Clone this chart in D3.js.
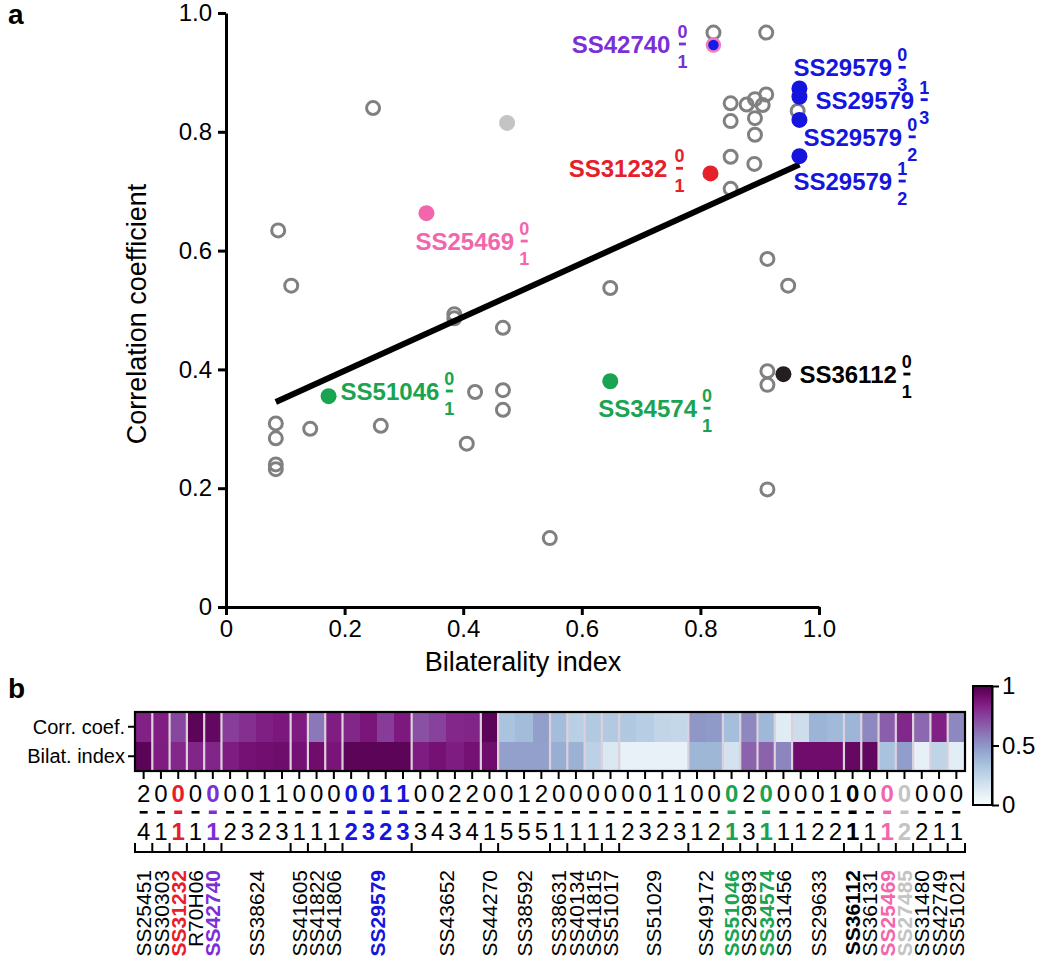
<!DOCTYPE html>
<html><head><meta charset="utf-8">
<script src="https://cdn.jsdelivr.net/npm/d3@7"></script>
<style>body{margin:0;background:#fff} text{font-family:"Liberation Sans",Arial,sans-serif}</style>
</head><body><svg id="c" width="1040" height="960"></svg>
<script>
// ---------- DATA ----------
const groupNames = ["SS25451","SS30303","SS31232","R70H06","SS42740","SS38624","SS41605","SS41822","SS41806","SS29579","SS43652","SS44270","SS38592","SS38631","SS40134","SS41815","SS51017","SS51029","SS49172","SS51046","SS29893","SS34574","SS31456","SS29633","SS36112","SS36131","SS25469","SS27485","SS31480","SS42749","SS51021"];
const groupSizes = [1,1,1,1,1,4,1,1,1,4,4,1,3,1,1,1,1,4,2,1,1,1,1,3,1,1,1,1,1,1,1];
const lineTop    = [2,0,0,0,0,0,0,1,1,0,0,0,0,0,1,1,0,0,2,2,0,0,1,2,0,0,0,0,0,0,1,1,0,0,0,2,0,0,0,0,1,0,0,0,0,0,0,0];
const lineBottom = [4,1,1,1,1,2,3,2,3,1,1,1,2,3,2,3,3,4,3,4,1,5,5,5,1,1,1,1,2,3,2,3,1,2,1,3,1,1,1,2,2,1,1,1,2,2,1,1];
const corrCoef   = [0.835,0.848,0.730,0.967,0.946,0.758,0.795,0.845,0.863,0.855,0.586,0.846,0.820,0.873,0.759,0.859,0.704,0.746,0.818,0.823,0.967,0.332,0.365,0.470,0.362,0.275,0.305,0.300,0.309,0.284,0.240,0.232,0.493,0.486,0.355,0.537,0.380,0.116,0.198,0.397,0.374,0.392,0.541,0.663,0.815,0.634,0.840,0.541];
const bilatIndex = [0.964,0.851,0.817,0.822,0.822,0.851,0.892,0.905,0.911,0.892,0.913,0.878,0.967,0.967,0.967,0.967,0.851,0.891,0.851,0.892,0.911,0.467,0.467,0.467,0.420,0.406,0.261,0.142,0.084,0.084,0.084,0.084,0.385,0.385,0.173,0.648,0.648,0.546,0.913,0.913,0.913,0.940,0.948,0.338,0.474,0.088,0.248,0.110];
const fitLine = {slope:0.453, intercept:0.307, from:0.084, to:0.967};
const axisTicks = [0,0.2,0.4,0.6,0.8,1.0];
const colorbarTicks = [0,0.5,1];
const rowNames = ["Corr. coef.","Bilat. index"];

// ---------- STYLE ----------
const hl = {
  SS31232:{dot:"#e6202a",label:"#e6202a"},
  SS42740:{dot:"#1a1ae6",ring:"#f07cc0",label:"#7b2fd6",r:6.5},
  SS29579:{dot:"#1515dd",label:"#1515dd"},
  SS51046:{dot:"#1aa350",label:"#1aa350"},
  SS34574:{dot:"#1aa350",label:"#1aa350"},
  SS36112:{dot:"#231f20",label:"#000000"},
  SS25469:{dot:"#f266ad",label:"#f266ad"},
  SS27485:{dot:"#c4c4c4",label:"#c4c4c4"}
};
const labelLayout = {
  2:{dx:-43,dy:4,anchor:"end"}, 4:{dx:-43,dy:8,anchor:"end"},
  13:{dx:-6,dy:-12}, 15:{dx:16,dy:12}, 12:{dx:4,dy:26}, 14:{dx:-6,dy:34},
  43:{dx:-11,dy:37}, 34:{dx:12,dy:4}, 36:{dx:-12,dy:36}, 41:{dx:16,dy:9}
};

// ---------- BUILD ----------
const cols = [];
groupNames.forEach((g,k)=>{
  for(let j=0;j<groupSizes[k];j++){
    const i = cols.length;
    cols.push({i, group:g, k, top:lineTop[i], bot:lineBottom[i], corr:corrCoef[i], bilat:bilatIndex[i]});
  }
});
const svg = d3.select("#c");
const FF = '"Liberation Sans",Arial,sans-serif';

// panel labels
svg.append("text").attr("x",8).attr("y",24).attr("font-size",28).attr("font-weight","bold").text("a");
svg.append("text").attr("x",8).attr("y",698).attr("font-size",28).attr("font-weight","bold").text("b");

// ---------- SCATTER ----------
const x = d3.scaleLinear().domain([0,1]).range([226,819]);
const y = d3.scaleLinear().domain([0,1]).range([607,13]);
const fmt = d=> d===0?"0":d3.format(".1f")(d);

const gx = svg.append("g").attr("transform","translate(0,607)")
  .call(d3.axisBottom(x).tickValues(axisTicks).tickSize(8).tickSizeOuter(0).tickPadding(5).tickFormat(fmt));
const gy = svg.append("g").attr("transform","translate(226,0)")
  .call(d3.axisLeft(y).tickValues(axisTicks).tickSize(8).tickSizeOuter(0).tickPadding(6).tickFormat(fmt));
[gx,gy].forEach(g=>{
  g.attr("font-family",FF).attr("font-size",24);
  g.select(".domain").attr("stroke-width",3).attr("stroke","#000");
  g.selectAll(".tick line").attr("stroke-width",3).attr("stroke","#000");
  g.selectAll(".tick text").attr("fill","#000");
});
svg.append("text").attr("x",523).attr("y",671).attr("text-anchor","middle").attr("font-size",27).text("Bilaterality index");
svg.append("text").attr("transform","translate(146,314) rotate(-90)").attr("text-anchor","middle").attr("font-size",27).text("Correlation coefficient");

// gray open circles
svg.append("g").selectAll("circle").data(cols.filter(c=>!hl[c.group])).join("circle")
  .attr("cx",c=>x(c.bilat)).attr("cy",c=>y(c.corr)).attr("r",6.5)
  .attr("fill","none").attr("stroke","#808080").attr("stroke-width",3);

// regression line
svg.append("line")
  .attr("x1",x(fitLine.from)).attr("y1",y(fitLine.intercept+fitLine.slope*fitLine.from))
  .attr("x2",x(fitLine.to)).attr("y2",y(fitLine.intercept+fitLine.slope*fitLine.to))
  .attr("stroke","#000").attr("stroke-width",6);

// highlighted dots
svg.append("g").selectAll("circle").data(cols.filter(c=>hl[c.group])).join("circle")
  .attr("cx",c=>x(c.bilat)).attr("cy",c=>y(c.corr))
  .attr("r",c=>hl[c.group].r||8)
  .attr("fill",c=>hl[c.group].dot)
  .attr("stroke",c=>hl[c.group].ring||"none").attr("stroke-width",2.5);

// labels with stacked fractions
const lg = svg.append("g");
Object.keys(labelLayout).forEach(key=>{
  const c = cols[+key], L = labelLayout[key], st = hl[c.group];
  const px = x(c.bilat)+L.dx, py = y(c.corr)+L.dy;
  const t = lg.append("text").attr("x",px).attr("y",py).attr("font-size",24).attr("font-weight","bold")
    .attr("fill",st.label).attr("text-anchor",L.anchor||"start").text(c.group);
  const len = t.node().getComputedTextLength();
  const fx = (L.anchor==="end") ? px+12 : px+len+10;
  lg.append("text").attr("x",fx).attr("y",py-15).attr("text-anchor","middle").attr("font-size",18).attr("font-weight","bold").attr("fill",st.label).text(c.top);
  lg.append("rect").attr("x",fx-3.5).attr("y",py-10.5).attr("width",7).attr("height",2.8).attr("fill",st.label);
  lg.append("text").attr("x",fx).attr("y",py+15).attr("text-anchor","middle").attr("font-size",18).attr("font-weight","bold").attr("fill",st.label).text(c.bot);
});

// ---------- HEATMAP ----------
const hx = d3.scaleBand().domain(d3.range(cols.length)).range([135,965]);
const hy = d3.scaleBand().domain(["corr","bilat"]).range([712,771]);
const color = d3.scaleSequential(d3.interpolateBuPu).domain([0,1]);
const bw = hx.bandwidth();
const cells = [];
cols.forEach(c=>{cells.push({c,row:"corr",v:c.corr}); cells.push({c,row:"bilat",v:c.bilat});});
svg.append("g").attr("shape-rendering","crispEdges").selectAll("rect").data(cells).join("rect")
  .attr("x",d=>hx(d.c.i)).attr("y",d=>hy(d.row)).attr("width",bw+0.6).attr("height",hy.bandwidth())
  .attr("fill",d=>color(d.v));
// group separators
const bounds = [0, ...d3.cumsum(groupSizes)];
svg.append("g").selectAll("line").data(bounds.slice(1,-1)).join("line")
  .attr("x1",b=>hx(b)).attr("x2",b=>hx(b)).attr("y1",712).attr("y2",771)
  .attr("stroke","#ddd0dd").attr("stroke-width",2.2);
svg.append("rect").attr("x",135).attr("y",712).attr("width",830).attr("height",59)
  .attr("fill","none").attr("stroke","#000").attr("stroke-width",2.2);
// row labels + ticks
const rowKeys = ["corr","bilat"];
rowKeys.forEach((r,j)=>{
  const cy = hy(r)+hy.bandwidth()/2;
  svg.append("line").attr("x1",128).attr("x2",135).attr("y1",cy).attr("y2",cy).attr("stroke","#000").attr("stroke-width",2);
  svg.append("text").attr("x",125).attr("y",cy+7).attr("text-anchor","end").attr("font-size",20).text(rowNames[j]);
});
// column ticks
svg.append("g").selectAll("line").data(cols).join("line")
  .attr("x1",c=>hx(c.i)+bw/2).attr("x2",c=>hx(c.i)+bw/2).attr("y1",771).attr("y2",779)
  .attr("stroke","#000").attr("stroke-width",2);
// numbers
const colCol = c=> hl[c.group]? hl[c.group].label : "#000";
const colW = c=> hl[c.group]? "bold":"normal";
svg.append("g").selectAll("text").data(cols).join("text")
  .attr("x",c=>hx(c.i)+bw/2).attr("y",802).attr("text-anchor","middle").attr("font-size",24)
  .attr("fill",colCol).attr("font-weight",colW).text(c=>c.top);
svg.append("g").selectAll("rect").data(cols).join("rect")
  .attr("x",c=>hx(c.i)+bw/2-4).attr("y",c=>hl[c.group]?810.5:811).attr("width",8).attr("height",c=>hl[c.group]?3.5:2.6)
  .attr("fill",colCol);
svg.append("g").selectAll("text").data(cols).join("text")
  .attr("x",c=>hx(c.i)+bw/2).attr("y",840).attr("text-anchor","middle").attr("font-size",24)
  .attr("fill",colCol).attr("font-weight",colW).text(c=>c.bot);
// bracket axis
svg.append("line").attr("x1",134).attr("x2",966).attr("y1",852).attr("y2",852).attr("stroke","#000").attr("stroke-width",2);
svg.append("g").selectAll("line").data(bounds).join("line")
  .attr("x1",b=>hx(b)===undefined?965:hx(b)).attr("x2",b=>hx(b)===undefined?965:hx(b))
  .attr("y1",843).attr("y2",852).attr("stroke","#000").attr("stroke-width",2);
// group labels
svg.append("g").selectAll("text").data(groupNames).join("text")
  .attr("transform",(g,k)=>`translate(${hx(bounds[k])+groupSizes[k]*bw/2},870) rotate(-90)`)
  .attr("dy","0.36em").attr("text-anchor","end").attr("font-size",21)
  .attr("fill",g=>hl[g]?hl[g].label:"#000").attr("font-weight",g=>hl[g]?"bold":"normal").text(g=>g);

// ---------- COLORBAR ----------
const defs = svg.append("defs");
const grad = defs.append("linearGradient").attr("id","cb").attr("x1",0).attr("y1",1).attr("x2",0).attr("y2",0);
d3.range(0,1.0001,0.05).forEach(t=>grad.append("stop").attr("offset",t).attr("stop-color",color(t)));
const cb = d3.scaleLinear().domain([0,1]).range([805,686]);
svg.append("rect").attr("x",973).attr("y",686).attr("width",19).attr("height",119).attr("fill","url(#cb)").attr("stroke","#000").attr("stroke-width",2);
const gcb = svg.append("g").attr("transform","translate(992,0)")
  .call(d3.axisRight(cb).tickValues(colorbarTicks).tickSize(7).tickSizeOuter(0).tickPadding(3).tickFormat(d=>d===0?"0":d===1?"1":"0.5"));
gcb.attr("font-family",FF).attr("font-size",24);
gcb.select(".domain").attr("stroke","#000").attr("stroke-width",2);
gcb.selectAll(".tick line").attr("stroke","#000").attr("stroke-width",2);
gcb.selectAll(".tick text").attr("fill","#000");
</script></body></html>
